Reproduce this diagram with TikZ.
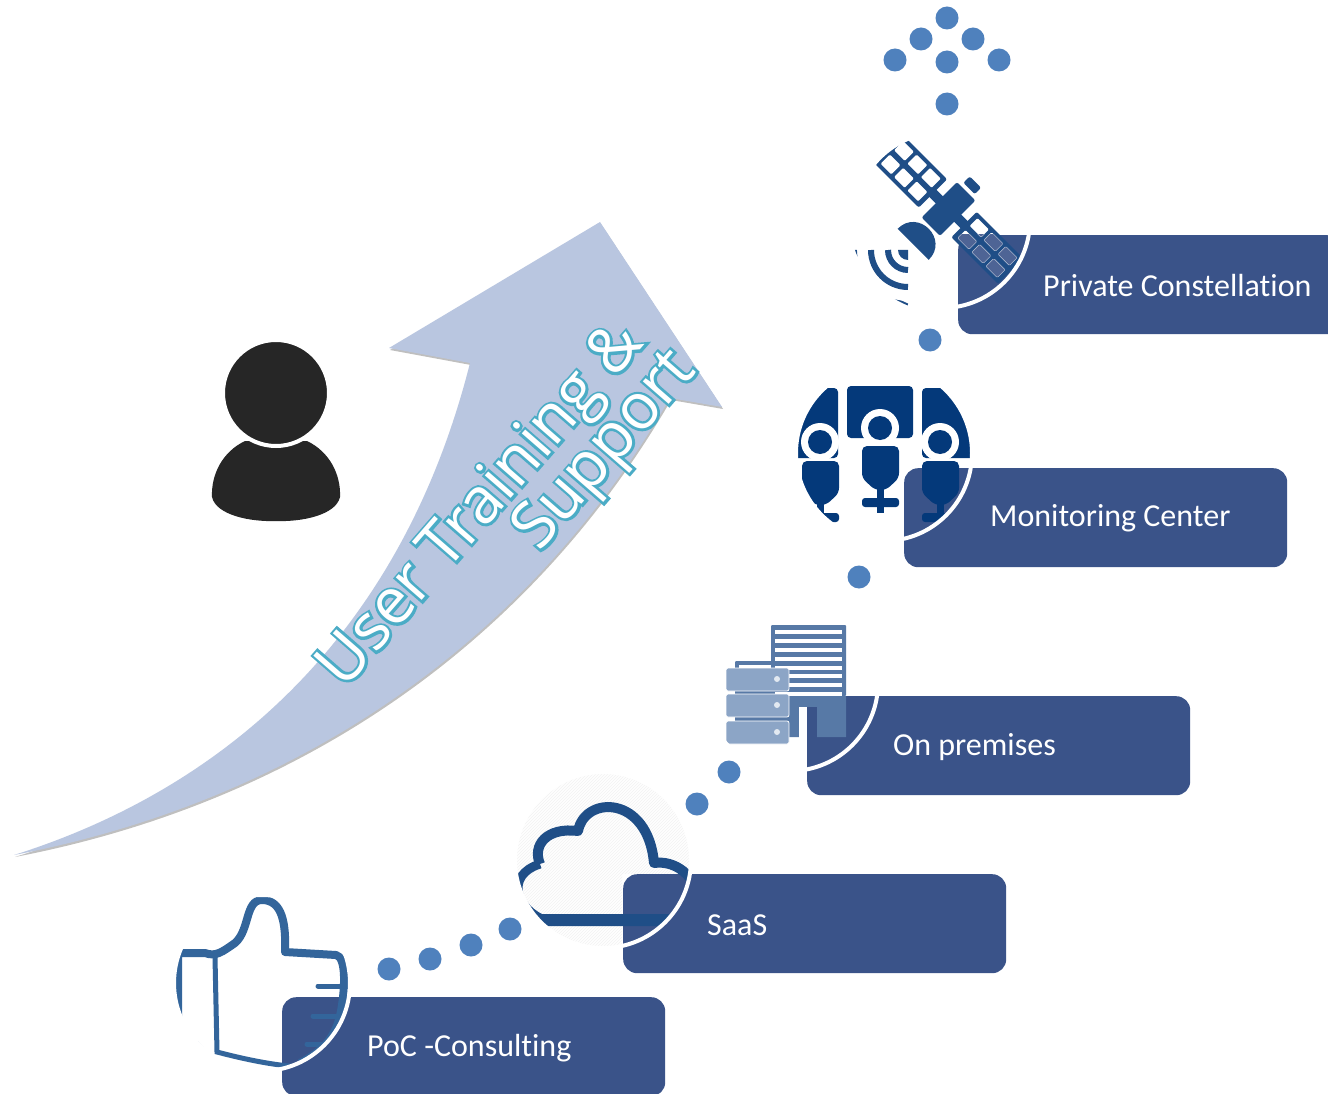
\documentclass[tikz,border=0pt]{standalone}
\usepackage{fontspec}
\usepackage{amsmath}
\usepackage{tikz}
\usetikzlibrary{patterns,shadows}
\setmainfont[Ligatures=NoCommon]{Carlito}
\newfontfamily\artfont{Open Sans}
\newfontfamily\artfontback[FakeBold=8]{Open Sans}
\definecolor{boxblue}{HTML}{3A5389}
\definecolor{dotblue}{HTML}{4F81BD}
\definecolor{arrowblue}{HTML}{B9C6E0}
\definecolor{outlineteal}{HTML}{4BACC6}
\definecolor{persongray}{HTML}{262626}
\definecolor{satblue}{HTML}{1F4E87}
\definecolor{roomblue}{HTML}{04397A}
\definecolor{thumbblue}{HTML}{33659B}
\definecolor{towerblue}{HTML}{5779A6}
\definecolor{serverblue}{HTML}{8CA5C6}
\tikzset{
    stagebox/.style={anchor=north west, fill=boxblue, rounded corners=14pt, minimum width=383pt, minimum height=99pt, inner sep=0pt},
    stagetext/.style={anchor=west, text=white, inner sep=0pt, font=\fontsize{32}{36}\selectfont},
    stagedot/.style={circle, fill=dotblue, minimum size=23pt, inner sep=0pt},
    arttext/.style={rotate=49, inner sep=0pt, text=white, font=\artfont\fontsize{64}{74}\selectfont},
    artback/.style={rotate=49, inner sep=0pt, text=outlineteal, font=\artfontback\fontsize{64}{74}\selectfont},
    ring/.style={draw=white, line width=4pt}
}

\begin{document}
\begin{tikzpicture}[x=1pt, y=-1pt]
    \useasboundingbox (0, 0) rectangle (1328, 1094);
    \clip (0, 0) rectangle (1328, 1094);
    \fill[white] (0, 0) rectangle (1328, 1094);

    \fill[arrowblue, drop shadow={shadow xshift=1pt, shadow yshift=-2pt, opacity=0.25, fill=black}]
        (14, 855) .. controls (220, 790) and (400, 640) .. (470, 363)
        -- (389, 348) -- (600, 222) -- (722, 407) -- (670, 398)
        .. controls (530, 640) and (300, 800) .. (14, 855) -- cycle;

    \fill[persongray] (245, 441) .. controls (222, 452) and (211, 475) .. (212, 497)
        .. controls (216, 515) and (250, 522) .. (276, 521)
        .. controls (302, 522) and (336, 515) .. (340, 497)
        .. controls (341, 475) and (330, 452) .. (307, 441) -- cycle;
    \draw[ring, fill=persongray] (276, 393) circle (53);

    \draw (958, 235) node[stagebox] (private) {};
    \draw (904, 468) node[stagebox] (monitoring) {};
    \draw (807, 696) node[stagebox] (premises) {};
    \draw (623, 874) node[stagebox] (saas) {};
    \draw (282, 997) node[stagebox] (poc) {};
    \draw (1043, 286) node[stagetext] (privatetext) {Private Constellation};
    \draw (990, 518) node[stagetext] (monitoringtext) {Monitoring Center};
    \draw (893, 747) node[stagetext] (premisestext) {On premises};
    \draw (707, 925) node[stagetext] (saastext) {SaaS};
    \draw (367, 1048) node[stagetext] (poctext) {PoC -Consulting};

    \begin{scope}
        \clip (942, 220) circle (88);
        \begin{scope}[shift={(948.5, 209)}, rotate=-45]
            \fill[satblue, rounded corners=2pt] (-84, -20) rectangle (-22, 20);
            \fill[satblue] (-26, -5) rectangle (26, 5);
            \fill[satblue, rounded corners=2pt] (22, -18) rectangle (88, 18);
            \fill[satblue, rounded corners=2pt] (-13, -25) rectangle (13, 25);
            \fill[satblue, rounded corners=2pt] (-8, -38) rectangle (8, -29);
            \fill[satblue] (-22, 50) .. controls (-22, 20.6) and (22, 20.6) .. (22, 50) -- cycle;
            \foreach \cx in {-80, -61, -42} {
                \fill[white, rounded corners=1pt] (\cx, -16) rectangle +(15, 13);
                \fill[white, rounded corners=1pt] (\cx, 3) rectangle +(15, 13);
            }
            \foreach \cx in {27, 47, 67} {
                \fill[white, rounded corners=1pt] (\cx, -14) rectangle +(16, 11);
                \fill[white, rounded corners=1pt] (\cx, 3) rectangle +(16, 11);
            }
        \end{scope}
    \end{scope}
    \begin{scope}
        \clip (942, 220) circle (88);
        \clip (958, 235) rectangle (1040, 310);
        \begin{scope}[shift={(948.5, 209)}, rotate=-45]
            \foreach \cx in {27, 47, 67} {
                \draw[fill=boxblue!90!white, draw=white!60!boxblue, rounded corners=1pt] (\cx, -14) rectangle +(16, 11);
                \draw[fill=boxblue!90!white, draw=white!60!boxblue, rounded corners=1pt] (\cx, 3) rectangle +(16, 11);
            }
        \end{scope}
    \end{scope}
    \begin{scope}
        \clip (942, 220) circle (92);
        \clip (840, 248) rectangle (909, 310);
        \fill[satblue] (908, 250) -- (898, 250) arc[start angle=180, end angle=90, radius=10] -- cycle;
        \draw[satblue, line width=6pt] (888, 250) arc[start angle=180, end angle=90, radius=20];
        \draw[satblue, line width=6pt] (871, 250) arc[start angle=180, end angle=90, radius=37];
        \draw[satblue, line width=6pt] (854, 250) arc[start angle=180, end angle=90, radius=54];
    \end{scope}
    \draw[ring] (942, 220) circle (88);

    \begin{scope}
        \clip (884, 453) circle (88);
        \fill[roomblue, rounded corners=4pt] (847, 386) rectangle (913, 438);
        \fill[roomblue, rounded corners=4pt] (780, 388) rectangle (838, 458);
        \fill[roomblue, rounded corners=4pt] (922, 388) rectangle (990, 458);
        \foreach \hx/\hy in {820/442, 880/428, 940/442} {
            \fill[white] (\hx, \hy) circle (19);
            \fill[roomblue] (\hx, \hy) circle (12);
        }
        \foreach \sx/\sy in {-60/15, 0/0, 60/15} {
            \begin{scope}[shift={(\sx, \sy)}]
                \fill[roomblue, rounded corners=5pt] (862, 446) -- (899, 446) -- (899, 478) -- (886, 490) -- (875, 490) -- (862, 478) -- cycle;
                \fill[roomblue] (877, 488) rectangle (884, 500);
                \fill[roomblue, rounded corners=3pt] (862, 498) rectangle (899, 507);
                \fill[roomblue] (877, 505) rectangle (884, 513);
            \end{scope}
        }
    \end{scope}
    \draw[ring] (884, 453) circle (88);

    \begin{scope}
        \clip (790, 683) circle (88);
        \fill[towerblue, rounded corners=1pt] (735, 661) rectangle (790, 737);
        \fill[white] (739, 665) rectangle (771, 668);
        \fill[towerblue, rounded corners=1pt] (771, 625) rectangle (846, 696);
        \foreach \sy in {630, 639, 648, 657, 666, 674, 683, 692} {
            \fill[white] (775, \sy) rectangle (842, \sy + 4);
        }
        \fill[towerblue] (771, 696) -- (846, 696) -- (846, 737) -- (817, 737) -- (817, 707)
            -- (799, 707) -- (799, 737) -- (771, 737) -- cycle;
        \fill[white] (799, 707) rectangle (807, 740);
        \fill[boxblue] (807, 707) rectangle (817, 740);
        \foreach \sy in {668, 694, 721} {
            \draw[fill=serverblue, draw=white, line width=0.8pt, rounded corners=2pt] (726, \sy) rectangle (789, \sy + 23);
            \fill[white!75!serverblue] (777, \sy + 11) circle (3);
        }
    \end{scope}
    \draw[ring] (790, 683) circle (88);

    \begin{scope}
        \clip (603, 860) circle (88);
        \fill[pattern=north east lines, pattern color=black!5] (515, 772) rectangle (622, 948);
        \fill[pattern=north east lines, pattern color=black!5] (622, 772) rectangle (692, 873);
        \draw[satblue, line width=10pt, line join=round]
            (540, 864) .. controls (532, 845) and (547, 827) .. (578, 831)
            .. controls (585, 795) and (648, 795) .. (654, 863)
            .. controls (675, 860) and (695, 875) .. (700, 900);
        \draw[satblue, line width=9pt] (540, 864) .. controls (505, 875) and (515, 910) .. (547, 921);
        \fill[satblue] (531, 910) -- (547, 926) -- (672, 926) -- (672, 914) -- (540, 914) -- cycle;
    \end{scope}
    \draw[ring] (603, 860) circle (88);

    \begin{scope}
        \clip (262, 983) circle (88);
        \draw[thumbblue, line width=8pt, line join=round]
            (178, 1040) -- (178, 953) -- (205, 953) .. controls (216, 957) and (222, 952) .. (235, 943)
            .. controls (250, 930) and (245, 900) .. (262, 900)
            .. controls (283, 900) and (286, 925) .. (285, 952)
            -- (336, 955) .. controls (346, 957) and (345, 985) .. (342, 1005)
            .. controls (338, 1035) and (325, 1050) .. (300, 1063);
        \draw[thumbblue, line width=5pt] (215, 957) -- (217, 1052) .. controls (240, 1058) and (270, 1065) .. (300, 1067);
        \draw[thumbblue, line width=5pt, line cap=round] (318, 986) -- (345, 986);
        \draw[thumbblue, line width=5pt, line cap=round] (313, 1016) -- (342, 1016);
        \draw[thumbblue, line width=5pt, line cap=round] (307, 1044) -- (331, 1044);
        \fill[thumbblue] (197, 1040) -- (206, 1050) -- (206, 1058) -- (197, 1052) -- cycle;
    \end{scope}
    \draw[ring] (262, 983) circle (88);

    \draw (947, 18) node[stagedot] (dota) {};
    \draw (921, 39) node[stagedot] (dotb) {};
    \draw (973, 39) node[stagedot] (dotc) {};
    \draw (895, 60) node[stagedot] (dotd) {};
    \draw (999, 60) node[stagedot] (dote) {};
    \draw (947, 62) node[stagedot] (dotf) {};
    \draw (947, 104) node[stagedot] (dotg) {};
    \draw (930, 340) node[stagedot] (doth) {};
    \draw (859, 577) node[stagedot] (doti) {};
    \draw (729, 772) node[stagedot] (dotj) {};
    \draw (697, 804) node[stagedot] (dotk) {};
    \draw (510, 929) node[stagedot] (dotl) {};
    \draw (471, 945) node[stagedot] (dotm) {};
    \draw (430, 959) node[stagedot] (dotn) {};
    \draw (389, 969) node[stagedot] (doto) {};

    \draw (483, 507) node[artback] (artoneback) {User Training \&};
    \draw (607, 452) node[artback] (arttwoback) {Support};
    \draw (483, 507) node[arttext] (artone) {User Training \&};
    \draw (607, 452) node[arttext] (arttwo) {Support};
\end{tikzpicture}
\end{document}
